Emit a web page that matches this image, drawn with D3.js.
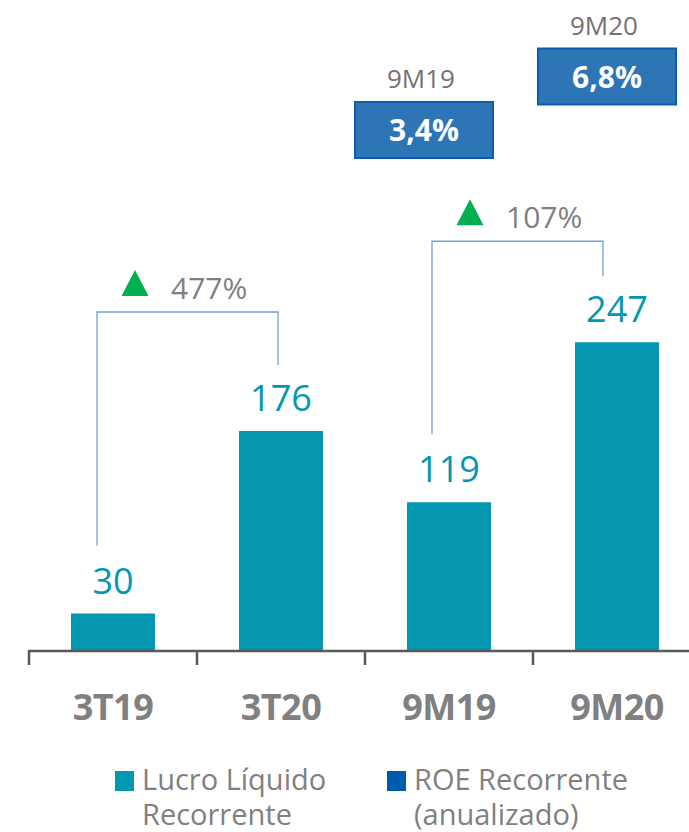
<!DOCTYPE html>
<html><head><meta charset="utf-8">
<script src="https://cdn.jsdelivr.net/npm/d3@7"></script>
<style>body{margin:0;background:#fff}svg{display:block}text{font-family:"Open Sans","Noto Sans",sans-serif}</style>
</head><body>
<svg id="c" width="689" height="832"></svg>
<script>
const categories = ["3T19", "3T20", "9M19", "9M20"];
const lucro = [30, 176, 119, 247];
const roeCategories = ["9M19", "9M20"];
const roeValues = [3.4, 6.8];
const roeLabels = ["3,4%", "6,8%"];
const growthPairs = [["3T19", "3T20"], ["9M19", "9M20"]];
const growthLabels = ["477%", "107%"];
const legendLabels = [["Lucro Líquido", "Recorrente"], ["ROE Recorrente", "(anualizado)"]];

const svg = d3.select("#c");
const teal = "#0497AF", grey = "#808080";

const x = d3.scaleBand().domain(categories).range([29, 701]).paddingInner(0.5).paddingOuter(0.25);
const y = d3.scaleLinear().domain([0, 260]).range([651, 326]);
const y2 = d3.scaleLinear().domain([0, 6.8]).range([183.5, 76.5]);
const step = x.step(), bw = x.bandwidth();
const cx = c => x(c) + bw / 2;

// bars
svg.selectAll("rect.bar").data(categories).join("rect")
  .attr("x", c => x(c)).attr("y", (c, i) => y(lucro[i]))
  .attr("width", bw).attr("height", (c, i) => y(0) - y(lucro[i]))
  .attr("fill", teal);

// value labels
svg.selectAll("text.val").data(categories).join("text")
  .attr("x", c => cx(c)).attr("y", (c, i) => y(lucro[i]) - 20)
  .attr("text-anchor", "middle").attr("font-size", 36).attr("fill", teal)
  .text((c, i) => lucro[i]);

// axis
const ax = svg.append("g");
ax.append("line").attr("x1", 28).attr("x2", 689).attr("y1", y(0)).attr("y2", y(0))
  .attr("stroke", "#595959").attr("stroke-width", 2.5);
ax.selectAll("line.tick").data(categories).join("line")
  .attr("x1", c => x(c) - step * 0.25).attr("x2", c => x(c) - step * 0.25)
  .attr("y1", y(0)).attr("y2", y(0) + 14)
  .attr("stroke", "#595959").attr("stroke-width", 2.5);
ax.selectAll("text").data(categories).join("text")
  .attr("x", c => cx(c)).attr("y", 720)
  .attr("text-anchor", "middle").attr("font-size", 36).attr("font-weight", 700)
  .attr("fill", grey).attr("letter-spacing", -0.5).text(c => c);

// brackets
const brOff = [{l: -16, r: -3, top: 119}, {l: -17, r: -14, top: 101}];
growthPairs.forEach((p, i) => {
  const ia = categories.indexOf(p[0]), ib = categories.indexOf(p[1]);
  const xl = cx(p[0]) + brOff[i].l, xr = cx(p[1]) + brOff[i].r;
  const top = y(lucro[ib]) - brOff[i].top;
  svg.append("path")
    .attr("d", `M${xl},${y(lucro[ia]) - 68}V${top}H${xr}V${y(lucro[ib]) - 66}`)
    .attr("fill", "none").attr("stroke", "#6FA0DC").attr("stroke-width", 1.3);
  const tx = xl + 38, tb = top - 16;
  svg.append("path")
    .attr("d", `M${tx - 13.5},${tb}L${tx + 13.5},${tb}L${tx},${tb - 26}Z`)
    .attr("fill", "#00B050");
  svg.append("text").attr("x", xl + 74).attr("y", top - 13)
    .attr("font-size", 30).attr("fill", grey).text(growthLabels[i]);
});

// ROE boxes
const roeOff = [-25, -10];
roeCategories.forEach((c, i) => {
  const bx = cx(c) + roeOff[i], byc = y2(roeValues[i]);
  svg.append("rect").attr("x", bx - 69).attr("y", byc - 28).attr("width", 138).attr("height", 56)
    .attr("fill", "#2E75B6").attr("stroke", "#0B5CAD").attr("stroke-width", 2);
  svg.append("text").attr("x", bx).attr("y", byc + 11).attr("text-anchor", "middle")
    .attr("font-size", 30).attr("font-weight", 700).attr("fill", "#fff").text(roeLabels[i]);
  svg.append("text").attr("x", bx - 3).attr("y", byc - 42).attr("text-anchor", "middle")
    .attr("font-size", 26).attr("fill", "#767171").text(c);
});

// legend
const legColors = [teal, "#005BAC"];
const legX = [115, 387];
legendLabels.forEach((lines, i) => {
  svg.append("rect").attr("x", legX[i]).attr("y", 771).attr("width", 19).attr("height", 20).attr("fill", legColors[i]);
  lines.forEach((t, j) => {
    svg.append("text").attr("x", legX[i] + 27).attr("y", 790 + j * 35)
      .attr("font-size", 29).attr("fill", grey).text(t);
  });
});
</script>
</body></html>
